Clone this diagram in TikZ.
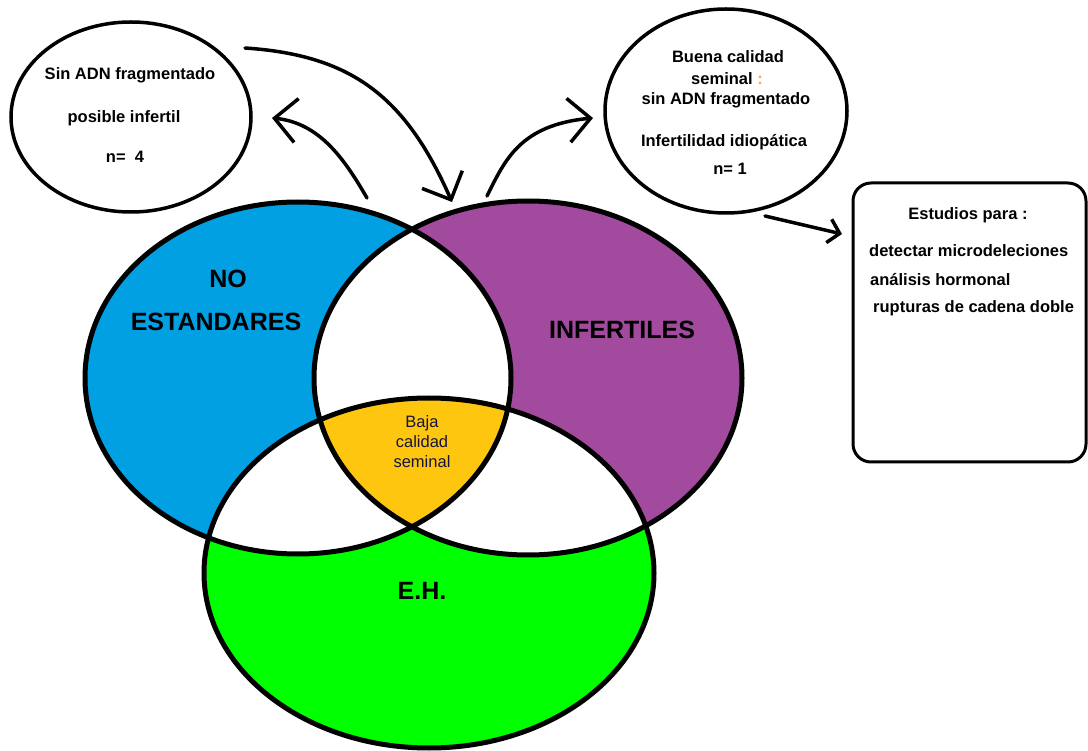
\documentclass[tikz,border=0pt]{standalone}
\usepackage{fontspec}
\setmainfont{Liberation Sans}
\usetikzlibrary{arrows.meta,shapes.geometric}
\definecolor{venblue}{RGB}{0,160,227}
\definecolor{venpurple}{RGB}{162,74,158}
\definecolor{vengreen}{RGB}{0,255,0}
\definecolor{venyellow}{RGB}{255,198,16}
\definecolor{navytext}{RGB}{20,20,60}
\definecolor{colonorange}{RGB}{240,170,80}
\begin{document}
\begin{tikzpicture}[x=1pt,y=-1pt,
  vline/.style={line width=5pt},
  bubble/.style={draw,ellipse,line width=3.5pt,inner sep=0pt},
  arr/.style={line width=3.5pt,line cap=round,-{Straight Barb[length=22pt,width=44pt]}},
  smallarr/.style={line width=3.5pt,line cap=round,-{Straight Barb[length=11pt,width=24pt]}},
  lbl/.style={font=\fontsize{16.5}{20}\selectfont\bfseries,inner sep=0pt},
  big/.style={font=\fontsize{25}{30}\selectfont\bfseries,inner sep=0pt},
  ]
\useasboundingbox (0,0) rectangle (1088,751);
\fill[white] (0,0) rectangle (1088,751);
\coordinate (B) at (298,378);
\coordinate (P) at (528,378);
\coordinate (G) at (429,573);
% fills
\fill[venblue] (B) ellipse [x radius=213pt, y radius=176pt];
\fill[venpurple] (P) ellipse [x radius=214pt, y radius=177pt];
\fill[vengreen] (G) ellipse [x radius=225pt, y radius=175pt];
\begin{scope}
  \clip (B) ellipse [x radius=213pt, y radius=176pt];
  \fill[white] (P) ellipse [x radius=214pt, y radius=177pt];
  \fill[white] (G) ellipse [x radius=225pt, y radius=175pt];
\end{scope}
\begin{scope}
  \clip (P) ellipse [x radius=214pt, y radius=177pt];
  \fill[white] (G) ellipse [x radius=225pt, y radius=175pt];
\end{scope}
\begin{scope}
  \clip (B) ellipse [x radius=213pt, y radius=176pt];
  \clip (P) ellipse [x radius=214pt, y radius=177pt];
  \fill[venyellow] (G) ellipse [x radius=225pt, y radius=175pt];
\end{scope}
% outlines
\draw[vline] (B) ellipse [x radius=213pt, y radius=176pt];
\draw[vline] (P) ellipse [x radius=214pt, y radius=177pt];
\draw[vline] (G) ellipse [x radius=225pt, y radius=175pt];
% venn labels
\node[big] (tno) at (228,279) {NO};
\node[big] (test) at (216,322) {ESTANDARES};
\node[big] (tinf) at (622,330) {INFERTILES};
\node[big] (teh) at (422,591) {E.H.};
\node[font=\fontsize{16.5}{20}\selectfont, text=navytext, align=center, inner sep=0pt] (tbaja) at (422,442) {Baja\\calidad\\seminal};
% bubbles
\node[bubble, minimum width=240pt, minimum height=190pt] (c1) at (131,117) {};
\node[lbl] (c1a) at (130,75) {Sin ADN fragmentado};
\node[lbl] (c1b) at (124,118) {posible infertil};
\node[lbl] (c1c) at (125,157) {n=~~4};
\node[bubble, minimum width=242pt, minimum height=204pt] (c2) at (726,111) {};
\node[lbl] (c2a) at (728,57) {Buena calidad};
\node[lbl] (c2b) at (727,79) {seminal {\color{colonorange}:}};
\node[lbl] (c2c) at (726,100) {sin ADN fragmentado};
\node[lbl] (c2d) at (724,142) {Infertilidad idiopática};
\node[lbl] (c2e) at (730,169) {n= 1};
% box
\node[draw, rounded corners=18pt, line width=3pt, minimum width=233pt, minimum height=279pt, inner sep=0pt] (box) at (969.5,322.5) {};
\node[lbl] (b1) at (968,215) {Estudios para :};
\node[lbl, anchor=west] (b2) at (869,251) {detectar microdeleciones};
\node[lbl, anchor=west] (b3) at (870,280) {análisis hormonal};
\node[lbl, anchor=west] (b4) at (873,308) {rupturas de cadena doble};
% arrows
\coordinate (a1s) at (245,48);
\coordinate (a1e) at (452,202);
\coordinate (a2s) at (367,198);
\coordinate (a2e) at (272,118);
\coordinate (a3s) at (487,196);
\coordinate (a3e) at (593,118);
\coordinate (a4s) at (765,216);
\coordinate (a4e) at (842,234);
\draw[arr] (a1s) .. controls (350,55) and (405,95) .. (a1e);
\draw[arr] (a2s) .. controls (345,160) and (320,123) .. (a2e);
\draw[arr] (a3s) .. controls (505,160) and (520,125) .. (a3e);
\draw[smallarr] (a4s) -- (a4e);
\end{tikzpicture}
\end{document}
